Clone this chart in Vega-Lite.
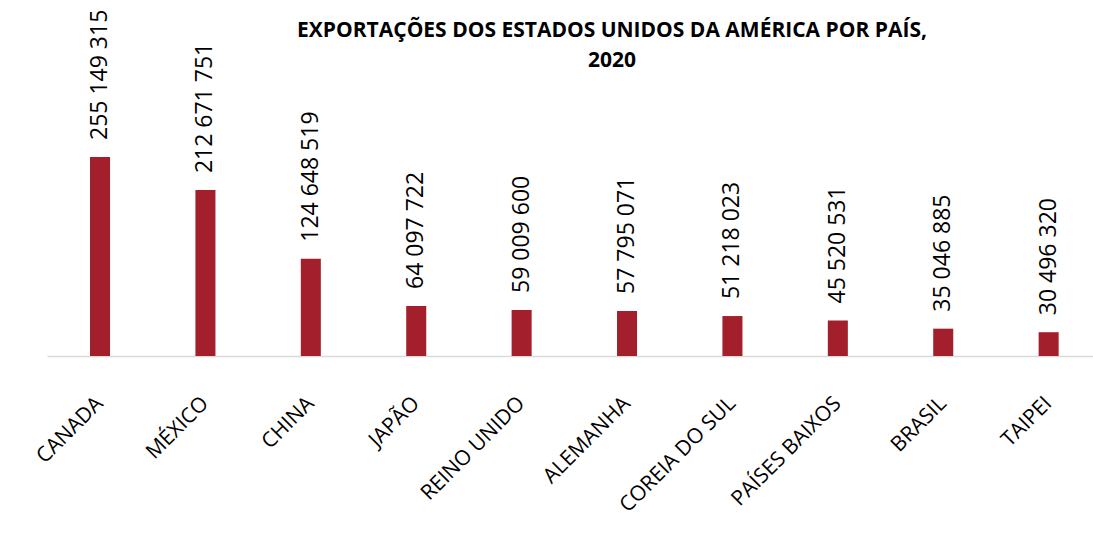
{
  "$schema": "https://vega.github.io/schema/vega-lite/v6.json",
  "width": 1046,
  "height": 234,
  "autosize": {"type": "none"},
  "padding": {"left": 47, "top": 122, "right": 0, "bottom": 190},
  "background": "white",
  "config": {
    "view": {"stroke": null},
    "font": "Open Sans",
    "locale": {"number": {"decimal": ",", "thousands": " ", "grouping": [3], "currency": ["", ""]}}
  },
  "title": {
    "text": ["EXPORTAÇÕES DOS ESTADOS UNIDOS DA AMÉRICA POR PAÍS,", "2020"],
    "frame": "group",
    "anchor": "middle",
    "dx": 42,
    "dy": 82,
    "baseline": "bottom",
    "lineHeight": 30,
    "offset": 0,
    "font": "Open Sans",
    "fontSize": 21,
    "fontWeight": "bold",
    "color": "#000000"
  },
  "data": {
    "values": [
      {"pais": "CANADA", "valor": 255149315},
      {"pais": "MÉXICO", "valor": 212671751},
      {"pais": "CHINA", "valor": 124648519},
      {"pais": "JAPÃO", "valor": 64097722},
      {"pais": "REINO UNIDO", "valor": 59009600},
      {"pais": "ALEMANHA", "valor": 57795071},
      {"pais": "COREIA DO SUL", "valor": 51218023},
      {"pais": "PAÍSES BAIXOS", "valor": 45520531},
      {"pais": "BRASIL", "valor": 35046885},
      {"pais": "TAIPEI", "valor": 30496320}
    ]
  },
  "encoding": {
    "x": {
      "field": "pais",
      "type": "nominal",
      "sort": null,
      "scale": {"paddingInner": 0.81, "paddingOuter": 0.367, "align": 0.556},
      "axis": {
        "title": null,
        "labelAngle": -45,
        "labelAlign": "right",
        "labelBaseline": "middle",
        "labelPadding": 44,
        "ticks": false,
        "domainColor": "#d9d9d9",
        "domainWidth": 1.5,
        "labelFont": "Open Sans",
        "labelFontSize": 21,
        "labelColor": "#000000",
        "labelLimit": 0,
        "labelOverlap": false
      }
    },
    "y": {
      "field": "valor",
      "type": "quantitative",
      "scale": {"domain": [0, 300000000]},
      "axis": null
    }
  },
  "layer": [
    {"mark": {"type": "bar", "color": "#A21F2B"}},
    {
      "mark": {"type": "text", "angle": 270, "align": "left", "baseline": "middle", "dx": 17, "font": "Open Sans", "fontSize": 23, "color": "#000000"},
      "encoding": {"text": {"field": "valor", "type": "quantitative", "format": ",d"}}
    }
  ]
}
